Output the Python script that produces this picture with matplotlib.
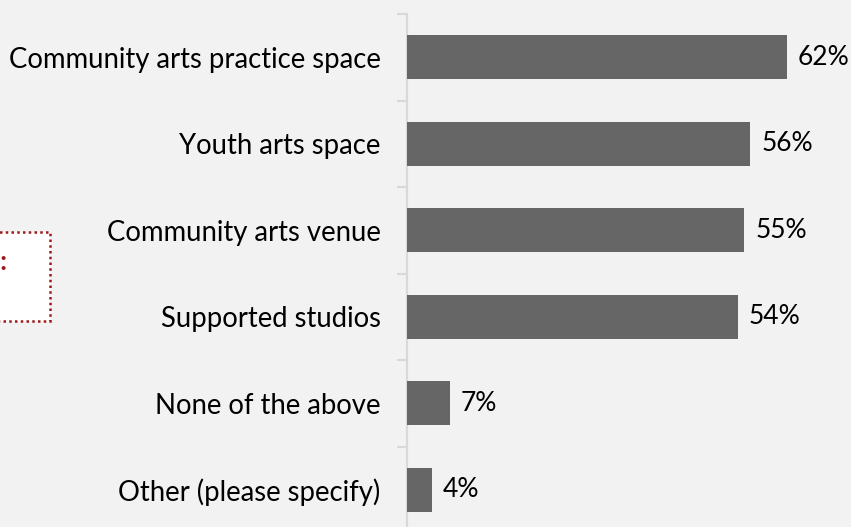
import matplotlib
matplotlib.use("Agg")
import matplotlib.pyplot as plt
from matplotlib.patches import Rectangle
from matplotlib.ticker import FixedLocator

categories = ["Community arts practice space", "Youth arts space", "Community arts venue",
              "Supported studios", "None of the above", "Other (please specify)"]
values = [62, 56, 55, 54, 7, 4]
value_labels = ["62%", "56%", "55%", "54%", "7%", "4%"]

W, H = 851, 527
fig = plt.figure(figsize=(W / 100, H / 100), dpi=100)
fig.patch.set_facecolor("#f2f2f2")
plt.rcParams["font.family"] = ["Lato", "DejaVu Sans"]

left_px, top_px, bottom_px = 407, 14, 533
ax = fig.add_axes([left_px / W, 1 - bottom_px / H, 1 - left_px / W, (bottom_px - top_px) / H])
ax.set_facecolor("none")

y = list(range(len(categories)))
ax.barh(y, values, height=0.51, color="#666666", zorder=3)
ax.set_ylim(len(categories) - 0.5, -0.5)
ax.set_xlim(0, (W - left_px) / 6.13)

for yi, v, lab in zip(y, values, value_labels):
    ax.text(v + 1.8, yi, lab, va="center", ha="left", fontsize=19, color="black")

ax.set_yticks(y)
ax.set_yticklabels(categories, fontsize=19.8)
ax.tick_params(axis="y", which="major", length=0, pad=19)
ax.yaxis.set_minor_locator(FixedLocator([i - 0.5 for i in range(len(categories) + 1)]))
ax.tick_params(axis="y", which="minor", length=7, width=1.5, color="#d9d9d9", direction="out")
ax.set_xticks([])
for s in ["top", "right", "bottom"]:
    ax.spines[s].set_visible(False)
ax.spines["left"].set_color("#d9d9d9")
ax.spines["left"].set_linewidth(1.6)

# partially visible note box on the left
box = Rectangle((-0.05, 1 - 321 / H), 0.05 + 50 / W, (321 - 232) / H, transform=fig.transFigure,
                facecolor="white", edgecolor="#9b1b1b", linewidth=1.8, linestyle=(0, (1, 1.3)),
                zorder=1)
fig.patches.append(box)
fig.text(8 / W, 1 - 262 / H, "Reasons:", ha="right", va="center", fontsize=19,
         fontweight="bold", color="#9b1b1b")

fig.savefig("out.png", dpi=100, facecolor=fig.get_facecolor())
